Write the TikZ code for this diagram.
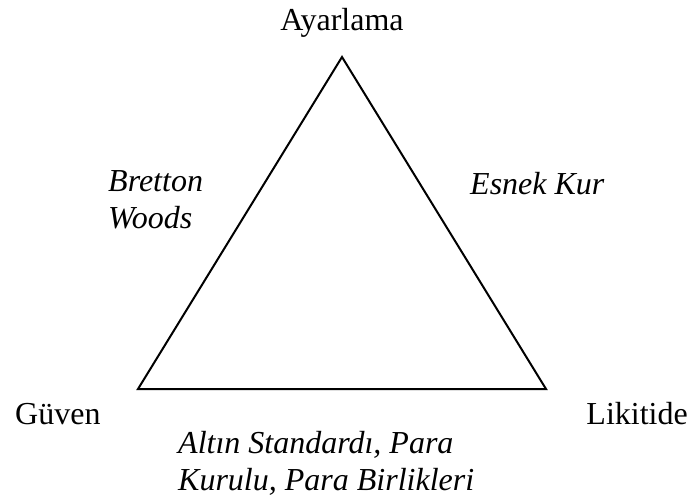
\documentclass[tikz,border=0pt]{standalone}
\usepackage{fontspec}
\setmainfont{Liberation Serif}
\usetikzlibrary{positioning}

\begin{document}
\begin{tikzpicture}[
  x=1pt,y=-1pt,
  corner/.style={font=\fontsize{32}{36}\selectfont,inner sep=0pt},
  regime/.style={font=\fontsize{32}{37}\selectfont\itshape,inner sep=0pt,align=left},
  edge/.style={draw=black,line width=2pt,line join=miter}
]
\useasboundingbox (0,0) rectangle (694,500);
\coordinate (apex) at (342,57);
\coordinate (left) at (138,389);
\coordinate (right) at (546,389);
\draw[edge] (apex) -- (right) -- (left) -- cycle;
\node[corner,anchor=base] (adjust) at (342,31) {Ayarlama};
\node[corner,anchor=base west] (trust) at (15,424) {Güven};
\node[corner,anchor=base east] (liquid) at (688,424) {Likitide};
\node[regime,anchor=base west] (bretton) at (108,229) {Bretton\\Woods};
\node[regime,anchor=base west] (float) at (470,194) {Esnek Kur};
\node[regime,anchor=base west] (gold) at (178,490) {Altın Standardı, Para\\Kurulu, Para Birlikleri};
\end{tikzpicture}
\end{document}
